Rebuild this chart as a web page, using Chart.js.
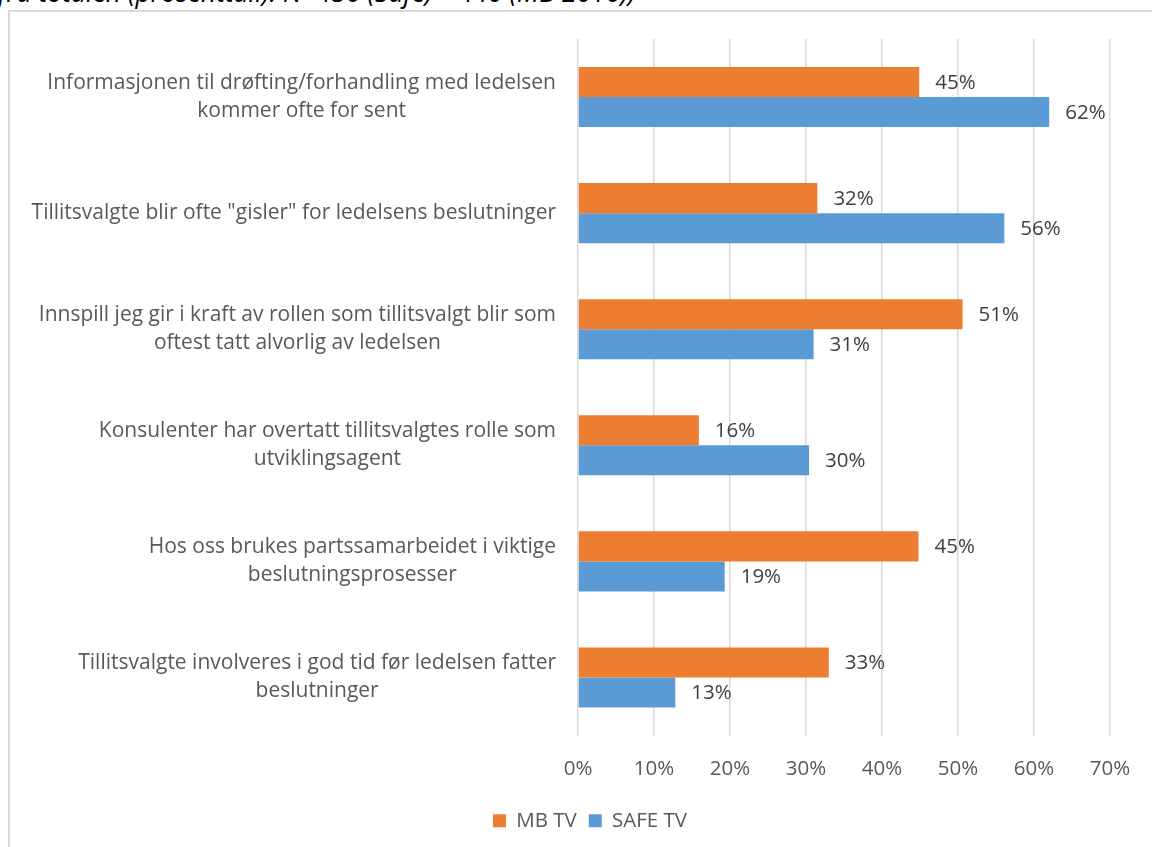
<!DOCTYPE html>
<html>
<head>
<meta charset="utf-8">
<script src="https://cdn.jsdelivr.net/npm/chart.js@4"></script>
<style>
  html, body { margin: 0; padding: 0; background: #fff; overflow: hidden; }
  #frame { position: absolute; left: 8px; top: 10px; width: 1200px; height: 900px; border: 2px solid #d9d9d9; box-sizing: border-box; }
  #cut-title { position: absolute; left: -2px; top: -21px; font: italic 26.5px "Open Sans", sans-serif; line-height: 26px; color: #000; white-space: nowrap; }
  canvas { position: absolute; left: 0; top: 0; }
</style>
</head>
<body>
<div id="cut-title">fra totalen (prosenttall). N=456 (Safe) – 440 (MB 2016))</div>
<div id="frame"></div>
<canvas id="chart" width="1152" height="847"></canvas>
<script>
const categories = [
  ['Informasjonen til drøfting/forhandling med ledelsen', 'kommer ofte for sent'],
  ['Tillitsvalgte blir ofte "gisler" for ledelsens beslutninger'],
  ['Innspill jeg gir i kraft av rollen som tillitsvalgt blir som', 'oftest tatt alvorlig av ledelsen'],
  ['Konsulenter har overtatt tillitsvalgtes rolle som', 'utviklingsagent'],
  ['Hos oss brukes partssamarbeidet i viktige', 'beslutningsprosesser'],
  ['Tillitsvalgte involveres i god tid før ledelsen fatter', 'beslutninger'],
];
const mbTv = [44.9, 31.5, 50.6, 15.9, 44.8, 33.0];
const safeTv = [62.0, 56.1, 31.0, 30.4, 19.3, 12.8];
const seriesNames = ['MB TV', 'SAFE TV'];
const xTicks = [0, 10, 20, 30, 40, 50, 60, 70];

const FONT = '"Open Sans", Lato, sans-serif';
const ORANGE = '#ED7D31';
const BLUE = '#5B9BD5';

// value labels to the right of each bar
const valueLabels = {
  id: 'valueLabels',
  afterDatasetsDraw(chart) {
    const { ctx } = chart;
    ctx.save();
    ctx.font = '20.5px ' + FONT;
    ctx.fillStyle = '#404040';
    ctx.textAlign = 'left';
    ctx.textBaseline = 'middle';
    chart.data.datasets.forEach((ds, i) => {
      chart.getDatasetMeta(i).data.forEach((bar, j) => {
        ctx.fillText(Math.round(ds.data[j]) + '%', bar.x + 16, bar.y + 1);
      });
    });
    ctx.restore();
  },
};

// category labels: block right-aligned to the axis, lines centred within the block
const categoryLabels = {
  id: 'categoryLabels',
  afterDraw(chart) {
    const { ctx, scales } = chart;
    const y = scales.y;
    const right = chart.chartArea.left - 22;
    const lineH = 28;
    ctx.save();
    ctx.font = '21px ' + FONT;
    ctx.fillStyle = '#595959';
    ctx.textAlign = 'center';
    ctx.textBaseline = 'middle';
    categories.forEach((lines, i) => {
      const maxW = Math.max(...lines.map((l) => ctx.measureText(l).width));
      const cx = right - maxW / 2;
      const cy = y.getPixelForTick(i);
      const top = cy - (lines.length - 1) * lineH / 2;
      lines.forEach((l, k) => ctx.fillText(l, cx, top + k * lineH));
    });
    ctx.restore();
  },
};

new Chart(document.getElementById('chart'), {
  type: 'bar',
  data: {
    labels: categories,
    datasets: [
      { label: seriesNames[0], data: mbTv, backgroundColor: ORANGE },
      { label: seriesNames[1], data: safeTv, backgroundColor: BLUE },
    ],
  },
  options: {
    indexAxis: 'y',
    responsive: false,
    animation: false,
    layout: { padding: { left: 70, top: 39, right: 42, bottom: 6 } },
    datasets: { bar: { categoryPercentage: 0.517, barPercentage: 1 } },
    plugins: {
      legend: {
        position: 'bottom',
        labels: {
          boxWidth: 13,
          boxHeight: 13,
          padding: 12,
          color: '#595959',
          font: { family: FONT, size: 20.5 },
        },
      },
      tooltip: { enabled: false },
    },
    scales: {
      x: {
        min: 0,
        max: 70,
        afterBuildTicks(scale) { scale.ticks = xTicks.map((v) => ({ value: v })); },
        afterFit(scale) { scale.height = 63; },
        grid: { color: '#d9d9d9', lineWidth: 1.5, drawTicks: false },
        border: { display: false },
        ticks: {
          padding: 21,
          color: '#595959',
          font: { family: FONT, size: 20.5 },
          callback: (v) => v + '%',
        },
      },
      y: {
        afterFit(scale) { scale.width = 508; },
        grid: { display: false },
        border: { display: false },
        ticks: { display: false },
      },
    },
  },
  plugins: [valueLabels, categoryLabels],
});
</script>
</body>
</html>
